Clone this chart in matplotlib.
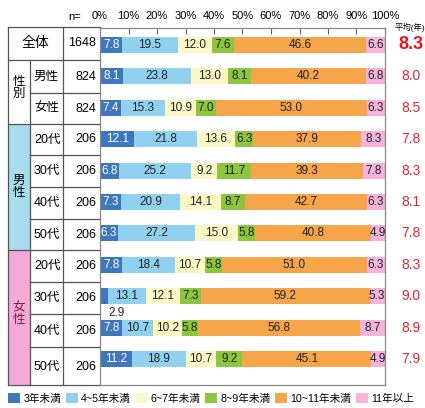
import numpy as np
import matplotlib.pyplot as plt
from matplotlib.patches import Rectangle

plt.rcParams['font.family'] = ['Liberation Sans', 'Noto Sans CJK JP']

categories = ['3年未満', '4~5年未満', '6~7年未満', '8~9年未満', '10~11年未満', '11年以上']
colors = ['#3f77be', '#8fd1ee', '#fbf8c6', '#8cc63f', '#f7a54b', '#f5b4de']
row_labels = ['全体', '男性', '女性', '20代', '30代', '40代', '50代', '20代', '30代', '40代', '50代']
n_values = [1648, 824, 824, 206, 206, 206, 206, 206, 206, 206, 206]
averages = [8.3, 8.0, 8.5, 7.8, 8.3, 8.1, 7.8, 8.3, 9.0, 8.9, 7.9]

# percent per category, one row per group
data = np.array([
    [7.8, 19.5, 12.0, 7.6, 46.6, 6.6],
    [8.1, 23.8, 13.0, 8.1, 40.2, 6.8],
    [7.4, 15.3, 10.9, 7.0, 53.0, 6.3],
    [12.1, 21.8, 13.6, 6.3, 37.9, 8.3],
    [6.8, 25.2, 9.2, 11.7, 39.3, 7.8],
    [7.3, 20.9, 14.1, 8.7, 42.7, 6.3],
    [6.3, 27.2, 15.0, 5.8, 40.8, 4.9],
    [7.8, 18.4, 10.7, 5.8, 51.0, 6.3],
    [2.9, 13.1, 12.1, 7.3, 59.2, 5.3],
    [7.8, 10.7, 10.2, 5.8, 56.8, 8.7],
    [11.2, 18.9, 10.7, 9.2, 45.1, 4.9],
])

W, H = 425, 408
fig = plt.figure(figsize=(W / 100, H / 100), dpi=100)

# table drawn in pixel coords
tab = fig.add_axes([0, 0, 1, 1])
tab.set_xlim(0, W)
tab.set_ylim(H, 0)
tab.axis('off')

x0, x1, x2, x3 = 8, 30, 63, 100
bounds = [27, 60, 93, 124, 155, 187, 219, 250, 282, 314, 347, 385]
tab.add_patch(Rectangle((x0, 124), x1 - x0, 250 - 124, color='#a8dcef', lw=0))
tab.add_patch(Rectangle((x0, 250), x1 - x0, 385 - 250, color='#f4aad7', lw=0))
lc = '#555555'
for i, yb in enumerate(bounds):
    left = x0 if yb in (27, 60, 124, 250, 385) else x1
    tab.plot([left, x3], [yb, yb], color=lc, lw=0.9)
tab.plot([x0, x0], [27, 385], color=lc, lw=0.9)
tab.plot([x1, x1], [60, 385], color=lc, lw=0.9)
tab.plot([x2, x2], [27, 385], color=lc, lw=0.9)

for i, lab in enumerate(row_labels):
    yc = (bounds[i] + bounds[i + 1]) / 2
    if i == 10:
        yc = 367
    if i == 0:
        tab.text((x0 + x2) / 2, yc, lab, ha='center', va='center', fontsize=10)
    else:
        tab.text(x1 + 4, yc, lab, ha='left', va='center', fontsize=9)
    tab.text(x3 - 4, yc, str(n_values[i]), ha='right', va='center', fontsize=9)
tab.text((x0 + x1) / 2, 88, '性\n別', ha='center', va='center', fontsize=9, linespacing=0.95)
tab.text((x0 + x1) / 2, 187, '男\n性', ha='center', va='center', fontsize=9, linespacing=0.95)
tab.text((x0 + x1) / 2, 314, '女\n性', ha='center', va='center', fontsize=9,
         linespacing=0.95, color='#7a1a48')
tab.text(75, 17, 'n=', ha='center', va='center', fontsize=8)
tab.text(395, 27, '平均(年)', ha='left', va='center', fontsize=6)

# bars
ax = fig.add_axes([x3 / W, (H - 385) / H, 285 / W, (385 - 28) / H])
ax.set_zorder(2)
ax.patch.set_alpha(0)
rows = np.arange(len(row_labels))
left = np.zeros(len(rows))
for j, cat in enumerate(categories):
    vals = data[:, j]
    ax.barh(rows, vals, left=left, height=0.51, color=colors[j], label=cat, lw=0)
    for r in rows:
        v = vals[r]
        cx = left[r] + v / 2
        tc = 'white' if j == 0 else '#222222'
        if v < 4:
            ax.annotate(f'{v:.1f}', xy=(cx, r + 0.2), xytext=(cx + 4.5, r + 0.55),
                        ha='center', va='center', fontsize=8.5, color='#222222',
                        arrowprops=dict(arrowstyle='-', color='#333333', lw=0.7))
        else:
            ax.text(cx, r, f'{v:.1f}', ha='center', va='center', fontsize=8.5, color=tc)
    left += vals

ax.set_xlim(0, 100)
ax.set_ylim(10.83, -0.54)
ax.set_yticks([])
ax.xaxis.tick_top()
ax.set_xticks(np.arange(0, 101, 10))
ax.set_xticklabels([f'{t}%' for t in range(0, 101, 10)], fontsize=8)
ax.tick_params(axis='x', direction='in', length=4, pad=5, color='#666666')
for s in ax.spines.values():
    s.set_color('#888888')
    s.set_linewidth(0.9)

# averages
for r, a in enumerate(averages):
    yc = 28 + (r + 0.54) * (385 - 28) / 11.37
    if r == 0:
        tab.text(411, yc, f'{a:.1f}', ha='center', va='center', fontsize=13,
                 fontweight='bold', color='#e8141e')
    else:
        tab.text(411, yc, f'{a:.1f}', ha='center', va='center', fontsize=10,
                 color='#e0262e')

fig.legend(loc='lower left', bbox_to_anchor=(2 / W, -0.005), ncol=6, frameon=False,
           fontsize=7.7, handlelength=1.1, handleheight=1.0, handletextpad=0.3,
           columnspacing=0.45, borderaxespad=0.2)

fig.savefig('out.png', dpi=100)
